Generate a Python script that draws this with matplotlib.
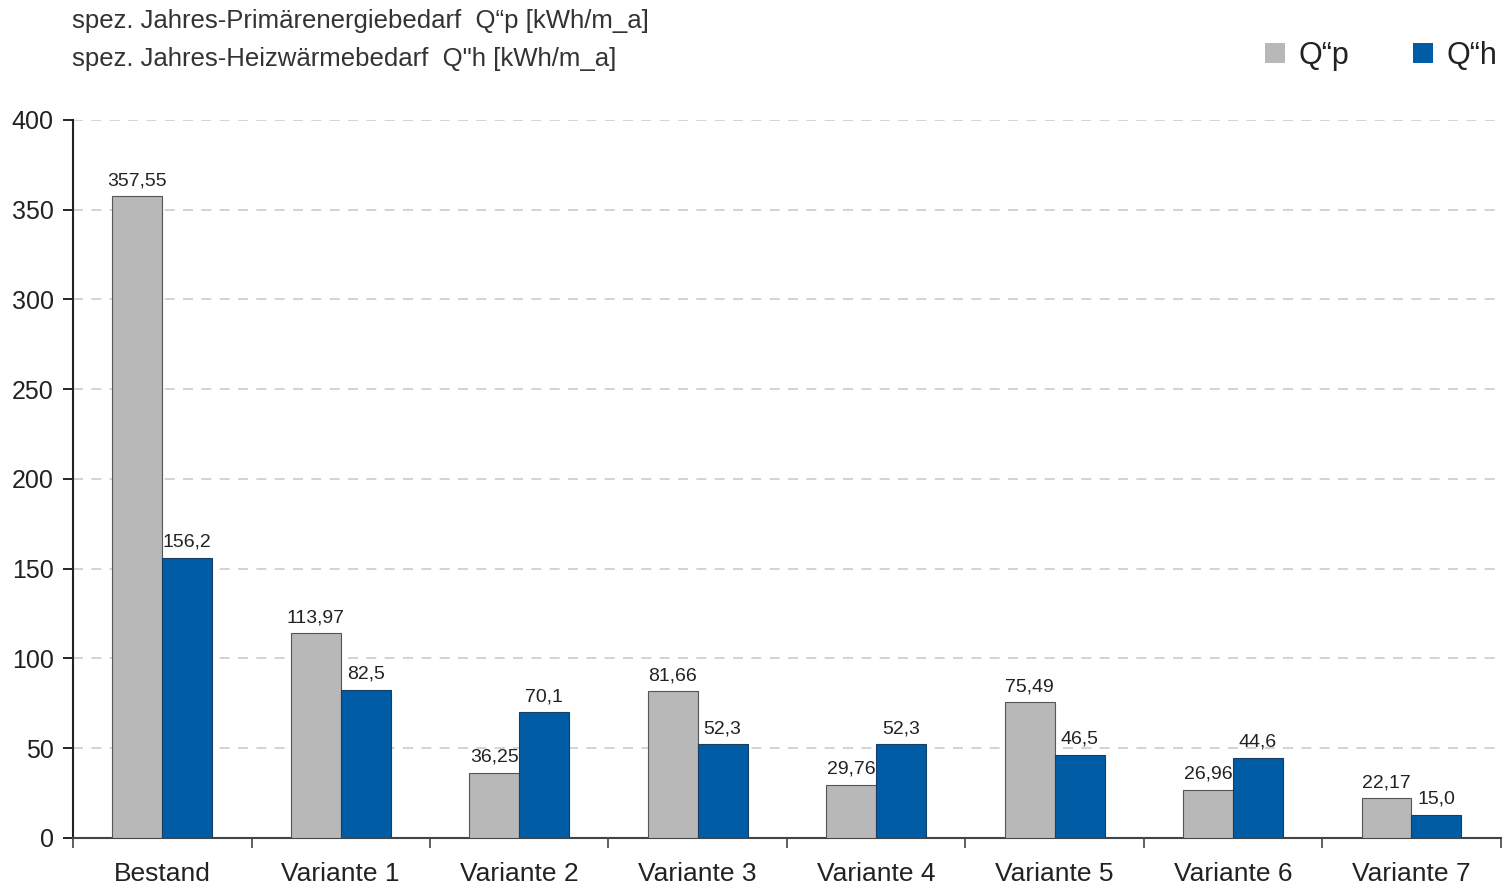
import matplotlib
matplotlib.use('Agg')
import matplotlib.pyplot as plt
from matplotlib.patches import Rectangle
import numpy as np

plt.rcParams['font.family'] = ['Liberation Sans', 'DejaVu Sans']

# Daten
kategorien = ['Bestand', 'Variante 1', 'Variante 2', 'Variante 3',
              'Variante 4', 'Variante 5', 'Variante 6', 'Variante 7']
qp_werte = [357.55, 113.97, 36.25, 81.66, 29.76, 75.49, 26.96, 22.17]
qh_werte = [156.2, 82.5, 70.1, 52.3, 52.3, 46.5, 44.6, 13.0]
qp_labels = ['357,55', '113,97', '36,25', '81,66', '29,76', '75,49', '26,96', '22,17']
qh_labels = ['156,2', '82,5', '70,1', '52,3', '52,3', '46,5', '44,6', '15,0']

grau = '#b8b8b8'
blau = '#005ca4'

W, H = 1506, 891
fig = plt.figure(figsize=(W / 100, H / 100), dpi=100)
ax = fig.add_axes([0.0485, 0.0595, 0.948, 0.806])

x = np.arange(len(kategorien))
b = 0.28
ax.bar(x - b / 2, qp_werte, b, color=grau, edgecolor='#555555', linewidth=0.8, zorder=3)
ax.bar(x + b / 2, qh_werte, b, color=blau, edgecolor='#1a3d66', linewidth=0.8, zorder=3)

for i in range(len(kategorien)):
    ax.annotate(qp_labels[i], (x[i] - b / 2, qp_werte[i]), xytext=(0, 5),
                textcoords='offset points', ha='center', va='bottom', fontsize=14, color='#222222')
    ax.annotate(qh_labels[i], (x[i] + b / 2, qh_werte[i]), xytext=(0, 5),
                textcoords='offset points', ha='center', va='bottom', fontsize=14, color='#222222')

ax.set_xlim(-0.5, 7.5)
ax.set_ylim(0, 400)
ax.set_yticks(np.arange(0, 401, 50))
ax.set_xticks(x)
ax.set_xticklabels(kategorien, fontsize=19, color='#222222')
ax.set_xticks(np.arange(-0.5, 7.6, 1), minor=True)
ax.tick_params(axis='x', which='major', length=0, pad=17)
ax.tick_params(axis='x', which='minor', length=7, width=1.2, color='#444444')
ax.tick_params(axis='y', length=7, width=1.2, labelsize=18, labelcolor='#222222', pad=7)

ax.yaxis.grid(True, linestyle=(0, (6, 5)), color='#cccccc', linewidth=1.2, zorder=0)
ax.set_axisbelow(True)
for s in ['top', 'right']:
    ax.spines[s].set_visible(False)
ax.spines['left'].set_color('#222222')
ax.spines['left'].set_linewidth(1.5)
ax.spines['bottom'].set_color('#444444')
ax.spines['bottom'].set_linewidth(1.5)

fig.text(72 / W, 1 - 21 / H, 'spez. Jahres-Primärenergiebedarf  Q“p [kWh/m_a]',
         fontsize=18.5, color='#333333', va='center')
fig.text(72 / W, 1 - 59 / H, 'spez. Jahres-Heizwärmebedarf  Q"h [kWh/m_a]',
         fontsize=18.5, color='#333333', va='center')

# Legende
for px, farbe, txt in [(1265, grau, 'Q“p'), (1413, blau, 'Q“h')]:
    fig.patches.append(Rectangle((px / W, 1 - 63 / H), 20 / W, 20 / H,
                                 transform=fig.transFigure, facecolor=farbe, edgecolor='none'))
    fig.text((px + 34) / W, 1 - 56 / H, txt, fontsize=22, color='#222222', va='center')

fig.savefig('out.png', dpi=100)
